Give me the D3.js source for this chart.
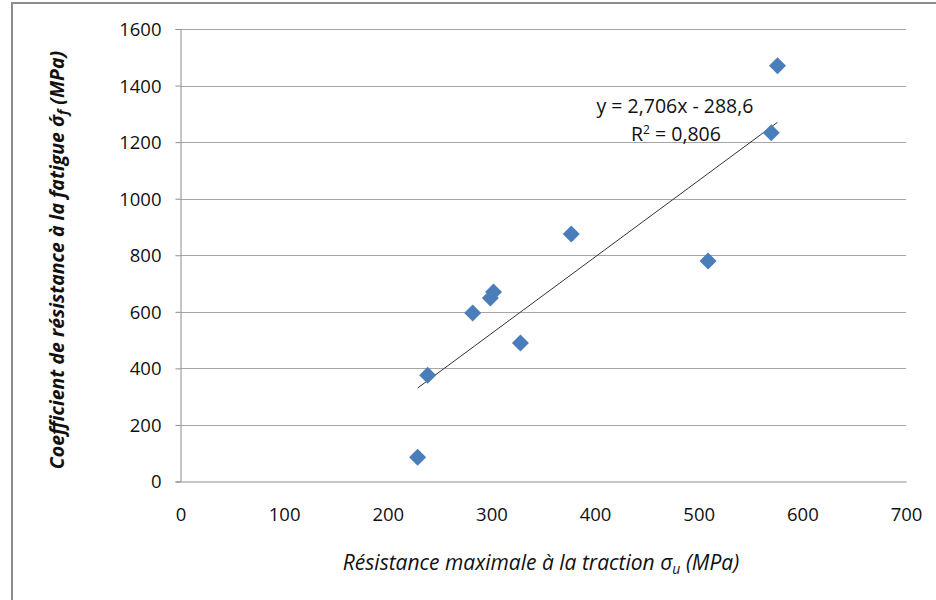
<!DOCTYPE html>
<html><head><meta charset="utf-8">
<script src="https://cdn.jsdelivr.net/npm/d3@7"></script>
<style>
html,body{margin:0;padding:0;background:#fff;}
svg text{font-family:"Open Sans","Lato",sans-serif;fill:#111;}
</style></head>
<body><svg id="c" width="936" height="600"></svg>
<script>
const tensile = [228.8, 238.5, 281.9, 299, 302, 328, 377, 509, 570, 576];
const fatigue = [86, 376, 596, 649, 670, 490, 875, 780, 1233, 1470];
const xTicks = [0, 100, 200, 300, 400, 500, 600, 700];
const yTicks = [0, 200, 400, 600, 800, 1000, 1200, 1400, 1600];
const slope = 2.706, intercept = -288.6;
const eqLabel = "y = 2,706x - 288,6";
const r2Label = ["R", "2", " = 0,806"];

const svg = d3.select("#c");
// outer frame
svg.append("rect").attr("x",12).attr("y",3).attr("width",940).attr("height",620)
  .attr("fill","none").attr("stroke","#8c8c8c").attr("stroke-width",2);

const x = d3.scaleLinear().domain([0,700]).range([180.5,906]);
const y = d3.scaleLinear().domain([0,1600]).range([481.5,29]);

// gridlines
svg.append("g").selectAll("line").data(yTicks.filter(d=>d>0)).join("line")
  .attr("x1",x(0)).attr("x2",x(700)).attr("y1",d=>Math.round(y(d))+0.5).attr("y2",d=>Math.round(y(d))+0.5)
  .attr("stroke","#a6a6a6").attr("stroke-width",1);

// y axis
const ya = svg.append("g").attr("transform",`translate(${x(0)},0)`)
  .call(d3.axisLeft(y).tickValues(yTicks).tickSize(5).tickPadding(14).tickFormat(d3.format("d")));
ya.select(".domain").attr("stroke","#8c8c8c");
ya.selectAll(".tick line").attr("stroke","#8c8c8c");
ya.selectAll(".tick text").attr("font-size",18.5).attr("font-family","Open Sans").attr("fill","#111").attr("dy","0.35em");

// x axis
const xa = svg.append("g").attr("transform",`translate(0,${y(0)})`)
  .call(d3.axisBottom(x).tickValues(xTicks).tickSize(0).tickPadding(26).tickFormat(d3.format("d")));
xa.select(".domain").attr("stroke","#8c8c8c");
xa.selectAll(".tick text").attr("font-size",18.5).attr("font-family","Open Sans").attr("fill","#111");

// trendline
const xe = d3.extent(tensile);
svg.append("line").attr("x1",x(xe[0])).attr("y1",y(slope*xe[0]+intercept))
  .attr("x2",x(xe[1])).attr("y2",y(slope*xe[1]+intercept))
  .attr("stroke","#333").attr("stroke-width",1);

// points
const pts = tensile.map((v,i)=>[v,fatigue[i]]);
svg.append("g").selectAll("path").data(pts).join("path")
  .attr("transform",d=>`translate(${x(d[0])},${y(d[1])})`)
  .attr("d","M0,-8.5L8.5,0L0,8.5L-8.5,0Z").attr("fill","#4a7ebb");

// equation
svg.append("text").attr("x",675).attr("y",113).attr("text-anchor","middle").attr("font-size",19.5).text(eqLabel);
const r2 = svg.append("text").attr("x",676).attr("y",141).attr("text-anchor","middle").attr("font-size",19.5);
r2.append("tspan").text(r2Label[0]);
r2.append("tspan").attr("dy",-7).attr("font-size",12).text(r2Label[1]);
r2.append("tspan").attr("dy",7).text(r2Label[2]);

// x title
const xt = svg.append("text").attr("x",541).attr("y",570).attr("text-anchor","middle")
  .attr("font-size",21).attr("font-style","italic");
xt.append("tspan").text("Résistance maximale à la traction σ");
xt.append("tspan").attr("dy",4).attr("font-size",14).text("u");
xt.append("tspan").attr("dy",-4).text(" (MPa)");

// y title
const yt = svg.append("text").attr("transform","translate(64,260) rotate(-90)").attr("text-anchor","middle")
  .attr("font-size",19.5).attr("font-style","italic").attr("font-weight","bold");
yt.append("tspan").text("Coefficient de résistance à la fatigue σ\u0301");
yt.append("tspan").attr("dy",4).attr("font-size",14).text("f");
yt.append("tspan").attr("dy",-4).text(" (MPa)");
</script></body></html>
